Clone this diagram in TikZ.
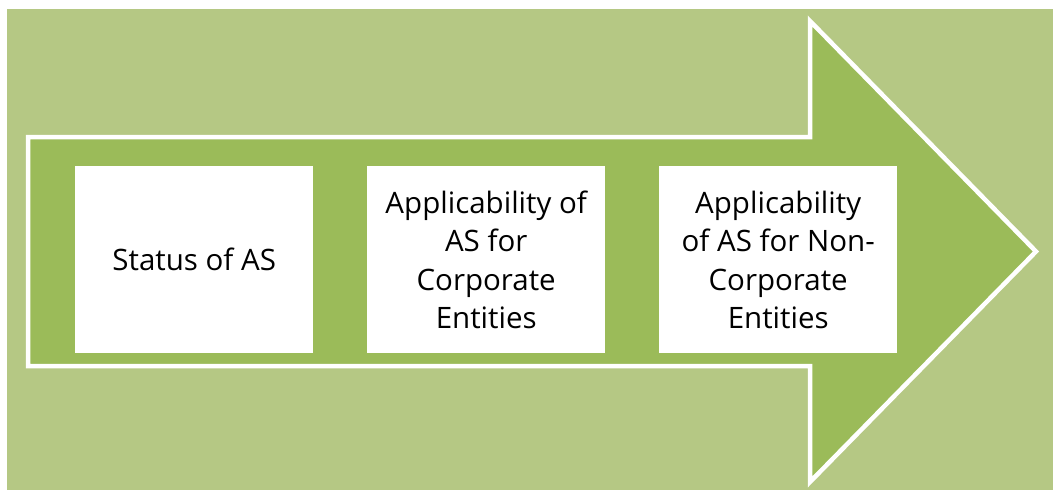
\documentclass[tikz,border=0pt]{standalone}
\usepackage{fontspec}
\setmainfont{Open Sans}
\definecolor{bgg}{HTML}{B5C884}
\definecolor{arrg}{HTML}{9BBB59}
\begin{document}
\begin{tikzpicture}[x=1pt,y=-1pt,
  stepbox/.style={fill=white,draw=none,minimum width=238pt,minimum height=187pt,
    inner sep=0pt,align=center,font=\fontsize{29.5}{38.5}\selectfont,anchor=north west}]
\useasboundingbox (0,0) rectangle (1053,490);
\fill[bgg] (7,9) rectangle (1053,490);
\draw[white,line width=4.5pt,fill=arrg,line join=miter]
  (28,137) -- (810,137) -- (810,21) -- (1036,251.5) -- (810,482) -- (810,366) -- (28,366) -- cycle;
\node[stepbox] (a) at (75,166) {Status of AS};
\node[stepbox] (b) at (367,166) {Applicability of\\AS for\\Corporate\\Entities};
\node[stepbox] (c) at (659,166) {Applicability\\of AS for Non-\\Corporate\\Entities};
\end{tikzpicture}
\end{document}
